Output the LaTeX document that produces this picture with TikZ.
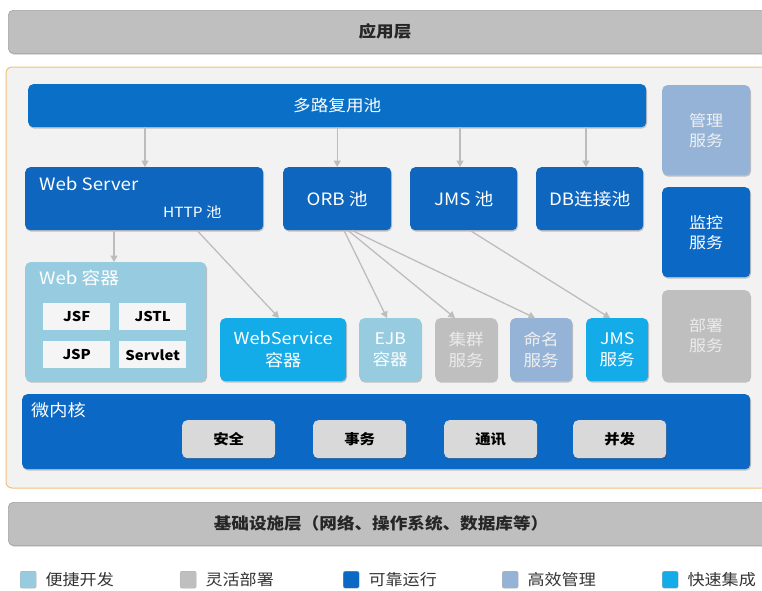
\documentclass[tikz,border=0pt]{standalone}
\usepackage{fontspec}
\setmainfont{Noto Sans CJK SC}[FakeStretch=1.1]
\usetikzlibrary{arrows.meta,shadows,calc}

\definecolor{barGray}{HTML}{BFBFBF}
\definecolor{barEdge}{HTML}{A0A0A0}
\definecolor{panelFill}{HTML}{F2F2F2}
\definecolor{panelEdge}{HTML}{F2C27C}
\definecolor{coreBlue}{HTML}{0B68C4}
\definecolor{poolBlue}{HTML}{0F66BE}
\definecolor{easyBlue}{HTML}{97CCE0}
\definecolor{fastCyan}{HTML}{14ACE8}
\definecolor{mgmtSteel}{HTML}{95B3D7}
\definecolor{itemGray}{HTML}{D9D9D9}
\definecolor{linkGray}{HTML}{BDBDBD}
\definecolor{legendText}{HTML}{333333}

\newcommand{\fsz}[1]{\fontsize{#1}{\dimexpr #1pt*13/10\relax}\selectfont}

\tikzset{
  shade box/.style={drop shadow={shadow xshift=0.8pt,shadow yshift=-1.4pt,opacity=0.3,fill=black!70}},
  blk/.style={shade box,rounded corners=5pt,anchor=north west,inner sep=0pt,
              align=center,font=\fsz{16}},
  layerbar/.style={blk,fill=barGray,draw=barEdge,line width=0.6pt,text=black},
  bluebox/.style={blk,fill=poolBlue,text=white},
  easybox/.style={blk,fill=easyBlue,text=white},
  fastbox/.style={blk,fill=fastCyan,text=white},
  graybox/.style={blk,fill=barGray,text=white!92!black},
  steelbox/.style={blk,fill=mgmtSteel,text=white!94!black},
  tagbox/.style={anchor=north west,fill=white!96!black,inner sep=0pt,
                 minimum width=67pt,minimum height=27pt,font=\bfseries\fsz{13.5}},
  coreitem/.style={blk,fill=itemGray,text=black,minimum width=93pt,minimum height=38pt,
                   font=\bfseries\fsz{14}},
  bartitle/.style={font=\bfseries\fsz{16},text=black!85},
  link/.style={draw=linkGray,line width=1.3pt,-{Triangle[width=7pt,length=6.5pt]}},
  swatch/.style={anchor=north west,rounded corners=2pt,minimum width=16pt,minimum height=17pt,
                 inner sep=0pt,draw=black!30,line width=0.4pt},
  legendlabel/.style={anchor=west,text=legendText,font=\fsz{15.5},inner sep=0pt}
}

\begin{document}
\begin{tikzpicture}[x=1pt,y=-1pt]
\useasboundingbox (0,0) rectangle (762,590);

% application layer
\node[layerbar,minimum width=775pt,minimum height=43pt] (app) at (8,10) {};
\node[bartitle] (apptxt) at (385,31) {应用层};

% platform panel
\draw[panelEdge,fill=panelFill,line width=1pt,rounded corners=6pt] (6,67) rectangle (790,488);

% multiplexing pool
\node[bluebox,fill=coreBlue!95!cyan,minimum width=618pt,minimum height=43pt,font=\fsz{16}] (mux) at (28,84) {多路复用池};

% side services
\node[steelbox,minimum width=88pt,minimum height=90pt,font=\fsz{15.5}] (mgmt) at (662,85) {管理\\服务};
\node[bluebox,fill=coreBlue,minimum width=88pt,minimum height=90pt,font=\fsz{15.5}] (mon) at (662,187) {监控\\服务};
\node[graybox,minimum width=88pt,minimum height=91pt,font=\fsz{15.5}] (deploy) at (662,290) {部署\\服务};

% pools
\node[bluebox,minimum width=238pt,minimum height=63pt] (web) at (25,167) {};
\node[anchor=west,text=white,font=\fsz{17},inner sep=0pt] (webtxt) at (39,184) {Web Server};
\node[anchor=west,text=white,font=\fsz{14},inner sep=0pt] (httptxt) at (163,212) {HTTP 池};
\node[bluebox,minimum width=108pt,minimum height=63pt,font=\fsz{17}] (orb) at (283,167) {ORB 池};
\node[bluebox,minimum width=107pt,minimum height=63pt,font=\fsz{17}] (jmsp) at (410,167) {JMS 池};
\node[bluebox,minimum width=107pt,minimum height=63pt,font=\fsz{17}] (db) at (536,167) {DB连接池};

% containers and services
\node[easybox,minimum width=181pt,minimum height=119pt] (wc) at (25,262) {};
\node[anchor=west,text=white,font=\fsz{17},inner sep=0pt] (wctxt) at (39,278) {Web 容器};
\node[tagbox] (jsf) at (43,303) {JSF};
\node[tagbox] (jstl) at (119,303) {JSTL};
\node[tagbox] (jsp) at (43,341) {JSP};
\node[tagbox] (servlet) at (119,341) {Servlet};

\node[fastbox,minimum width=126pt,minimum height=63pt,font=\fsz{16.5}] (ws) at (220,318) {WebService\\容器};
\node[easybox,minimum width=62pt,minimum height=63pt] (ejb) at (359,318) {EJB\\容器};
\node[graybox,minimum width=62pt,minimum height=63pt] (cluster) at (435,318) {集群\\服务};
\node[steelbox,minimum width=62pt,minimum height=63pt] (naming) at (510,318) {命名\\服务};
\node[fastbox,minimum width=62pt,minimum height=63pt] (jmss) at (586,318) {JMS\\服务};

% micro kernel
\node[bluebox,fill=coreBlue,minimum width=728pt,minimum height=75pt] (kernel) at (22,394) {};
\node[anchor=west,text=white,font=\fsz{16.5},inner sep=0pt] (kerneltxt) at (31,410) {微内核};
\node[coreitem] (sec) at (182,420) {安全};
\node[coreitem] (tx) at (313,420) {事务};
\node[coreitem] (comm) at (444,420) {通讯};
\node[coreitem] (conc) at (573,420) {并发};

% infrastructure layer
\node[layerbar,minimum width=775pt,minimum height=43pt] (infra) at (8,502) {};
\node[bartitle] (infratxt) at (381,523) {基础设施层（网络、操作系统、数据库等）};

% connectors
\draw[link] (mux.south -| 145,0) -- (web.north -| 145,0);
\draw[link] (mux.south -| orb.north) -- (orb.north);
\draw[link] (mux.south -| 460,0) -- (jmsp.north -| 460,0);
\draw[link] (mux.south -| 586,0) -- (db.north -| 586,0);
\draw[link] (web.south -| 114,0) -- (wc.north -| 114,0);
\draw[link] (web.south -| 197,0) -- (ws.north -| 279,0);
\draw[link] (orb.south -| 344,0) -- (ejb.north -| 387,0);
\draw[link] (orb.south -| 348,0) -- (cluster.north -| 455,0);
\draw[link] (orb.south -| 352,0) -- (naming.north -| 535,0);
\draw[link] (jmsp.south -| 470,0) -- (jmss.north -| 610,0);

% legend
\node[swatch,fill=easyBlue] (k1) at (20,571) {};
\node[legendlabel] (k1t) at ($(k1.east)+(9,0)$) {便捷开发};
\node[swatch,fill=barGray] (k2) at (180,571) {};
\node[legendlabel] (k2t) at ($(k2.east)+(9,0)$) {灵活部署};
\node[swatch,fill=coreBlue] (k3) at (343,571) {};
\node[legendlabel] (k3t) at ($(k3.east)+(9,0)$) {可靠运行};
\node[swatch,fill=mgmtSteel] (k4) at (502,571) {};
\node[legendlabel] (k4t) at ($(k4.east)+(9,0)$) {高效管理};
\node[swatch,fill=fastCyan] (k5) at (662,571) {};
\node[legendlabel] (k5t) at ($(k5.east)+(9,0)$) {快速集成};
\end{tikzpicture}
\end{document}
